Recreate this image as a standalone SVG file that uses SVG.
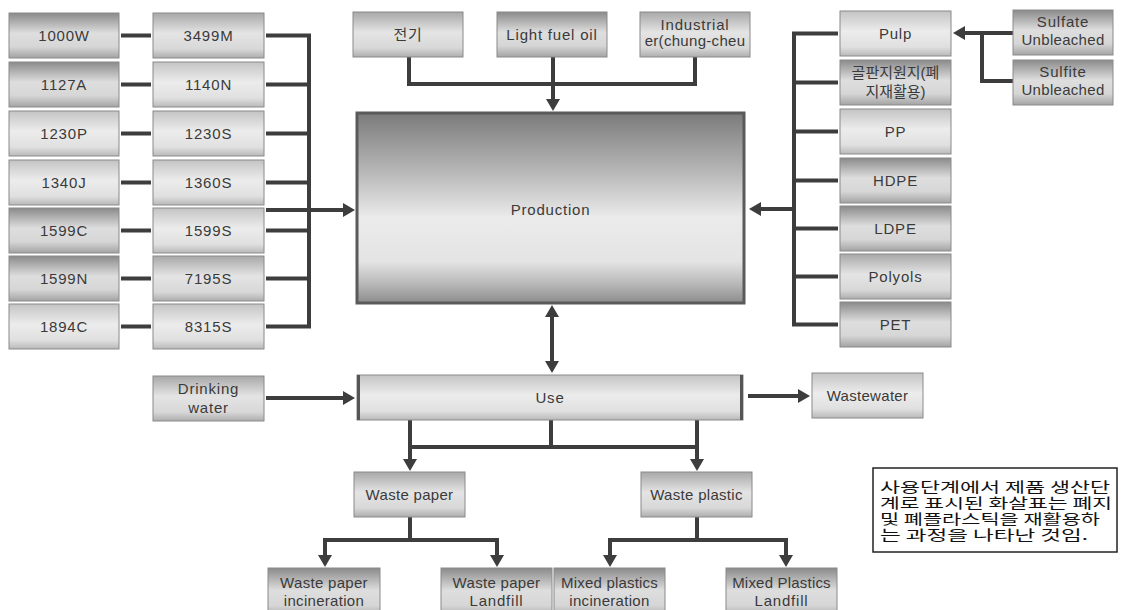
<svg xmlns="http://www.w3.org/2000/svg" width="1124" height="610" viewBox="0 0 1124 610">
<defs>
<linearGradient id="gD" x1="0" y1="0" x2="0" y2="1">
<stop offset="0" stop-color="#8a8a8a"/><stop offset="0.45" stop-color="#dedede"/><stop offset="0.75" stop-color="#d6d6d6"/><stop offset="1" stop-color="#a3a3a3"/>
</linearGradient>
<linearGradient id="gM" x1="0" y1="0" x2="0" y2="1">
<stop offset="0" stop-color="#a8a8a8"/><stop offset="0.45" stop-color="#e4e4e4"/><stop offset="0.8" stop-color="#d8d8d8"/><stop offset="1" stop-color="#adadad"/>
</linearGradient>
<linearGradient id="gL" x1="0" y1="0" x2="0" y2="1">
<stop offset="0" stop-color="#c4c4c4"/><stop offset="0.45" stop-color="#ececec"/><stop offset="0.8" stop-color="#e0e0e0"/><stop offset="1" stop-color="#b9b9b9"/>
</linearGradient>
<linearGradient id="gP" x1="0" y1="0" x2="0" y2="1">
<stop offset="0" stop-color="#7b7b7b"/><stop offset="0.3" stop-color="#b5b5b5"/><stop offset="0.55" stop-color="#ebebeb"/><stop offset="0.78" stop-color="#e4e4e4"/><stop offset="0.9" stop-color="#b8b8b8"/><stop offset="1" stop-color="#8c8c8c"/>
</linearGradient>
<marker id="arr" viewBox="0 0 12 14" refX="6" refY="7" markerWidth="12" markerHeight="14" orient="auto-start-reverse" markerUnits="userSpaceOnUse">
<path d="M0,0 L12,7 L0,14 z" fill="#3d3d3d"/>
</marker>
<style>
.b{stroke:#8a8a8a;stroke-width:1}
.d{fill:url(#gD)}
.m{fill:url(#gM)}
.l{fill:url(#gL)}
.t{font-family:"Liberation Sans",Arial,sans-serif;font-size:15px;fill:#3a3a3a;text-anchor:middle;letter-spacing:0.8px}
.k{font-family:"Liberation Sans","Noto Sans CJK KR",sans-serif}
.c{fill:none;stroke:#3d3d3d;stroke-width:4}
.a{fill:none;stroke:#3d3d3d;stroke-width:4;marker-end:url(#arr)}
.n{font-family:"Noto Sans CJK KR",sans-serif;font-size:14px;fill:#111}
</style>
</defs>

<g id="connectors">
<path class="c" d="M121,35.5H151M121,84.5H151M121,133.5H151M121,182.5H151M121,230.5H151M121,278.5H151M121,326.5H151"/>
<path class="c" d="M266,35.5H309V326.5H266M266,84.5H309M266,133.5H309M266,182.5H309M266,230.5H309M266,278.5H309"/>
<path class="a" d="M266,210H349"/>
<path class="c" d="M409,57V84H695V57"/>
<path class="a" d="M553,57V105"/>
<path class="c" d="M838,33.5H794V324.5H838M794,82.5H838M794,131.5H838M794,180.5H838M794,228.5H838M794,276.5H838"/>
<path class="a" d="M794,209H755"/>
<path class="c" d="M1013,81H982V33"/>
<path class="a" d="M1013,33H959"/>
<path class="a" d="M552,367V311" style="marker-start:url(#arr)"/>
<path class="a" d="M266,398H349"/>
<path class="a" d="M748,396H804"/>
<path class="c" d="M410,447H697M551,420V447"/>
<path class="a" d="M410,420V465"/>
<path class="a" d="M697,420V465"/>
<path class="c" d="M410,517V540M325,540H497"/>
<path class="a" d="M325,538V561"/>
<path class="a" d="M497,538V561"/>
<path class="c" d="M697,517V540M610,540H786"/>
<path class="a" d="M610,538V561"/>
<path class="a" d="M786,538V561"/>
</g>

<g id="n1000W"><rect class="b d" x="9" y="13" width="110" height="45"/><text class="t" x="64" y="41">1000W</text></g>
<g id="n1127A"><rect class="b d" x="9" y="62" width="110" height="45"/><text class="t" x="64" y="90">1127A</text></g>
<g id="n1230P"><rect class="b l" x="9" y="111" width="110" height="45"/><text class="t" x="64" y="139">1230P</text></g>
<g id="n1340J"><rect class="b l" x="9" y="160" width="110" height="45"/><text class="t" x="64" y="188">1340J</text></g>
<g id="n1599C"><rect class="b d" x="9" y="208" width="110" height="45"/><text class="t" x="64" y="236">1599C</text></g>
<g id="n1599N"><rect class="b d" x="9" y="256" width="110" height="45"/><text class="t" x="64" y="284">1599N</text></g>
<g id="n1894C"><rect class="b l" x="9" y="304" width="110" height="45"/><text class="t" x="64" y="332">1894C</text></g>

<g id="n3499M"><rect class="b m" x="153" y="13" width="111" height="45"/><text class="t" x="208.5" y="41">3499M</text></g>
<g id="n1140N"><rect class="b l" x="153" y="62" width="111" height="45"/><text class="t" x="208.5" y="90">1140N</text></g>
<g id="n1230S"><rect class="b l" x="153" y="111" width="111" height="45"/><text class="t" x="208.5" y="139">1230S</text></g>
<g id="n1360S"><rect class="b l" x="153" y="160" width="111" height="45"/><text class="t" x="208.5" y="188">1360S</text></g>
<g id="n1599S"><rect class="b l" x="153" y="208" width="111" height="45"/><text class="t" x="208.5" y="236">1599S</text></g>
<g id="n7195S"><rect class="b m" x="153" y="256" width="111" height="45"/><text class="t" x="208.5" y="284">7195S</text></g>
<g id="n8315S"><rect class="b l" x="153" y="304" width="111" height="45"/><text class="t" x="208.5" y="332">8315S</text></g>

<g id="nElec"><rect class="b m" x="353" y="12" width="110" height="45"/><text class="t k" x="408" y="40">전기</text></g>
<g id="nFuel"><rect class="b d" x="497" y="12" width="110" height="45"/><text class="t" x="552" y="40">Light fuel oil</text></g>
<g id="nIndustrial"><rect class="b m" x="640" y="12" width="110" height="45"/><text class="t" x="695" y="30">Industrial</text><text class="t" x="695" y="46" style="letter-spacing:0.3px">er(chung-cheu</text></g>

<g id="nProduction"><rect x="357" y="113" width="387" height="190" fill="url(#gP)" stroke="#5a5a5a" stroke-width="3"/><text class="t" x="550.5" y="215">Production</text></g>

<g id="nPulp"><rect class="b l" x="840" y="11" width="111" height="45"/><text class="t" x="895.5" y="39">Pulp</text></g>
<g id="nCorrugated"><rect class="b d" x="840" y="60" width="111" height="45"/><text class="t k" x="895.5" y="78" style="letter-spacing:0;font-size:15px">골판지원지(폐</text><text class="t k" x="895.5" y="97" style="letter-spacing:0;font-size:15px">지재활용)</text></g>
<g id="nPP"><rect class="b l" x="840" y="109" width="111" height="45"/><text class="t" x="895.5" y="137">PP</text></g>
<g id="nHDPE"><rect class="b d" x="840" y="158" width="111" height="45"/><text class="t" x="895.5" y="186">HDPE</text></g>
<g id="nLDPE"><rect class="b d" x="840" y="206" width="111" height="45"/><text class="t" x="895.5" y="234">LDPE</text></g>
<g id="nPolyols"><rect class="b m" x="840" y="254" width="111" height="45"/><text class="t" x="895.5" y="282">Polyols</text></g>
<g id="nPET"><rect class="b d" x="840" y="302" width="111" height="45"/><text class="t" x="895.5" y="330">PET</text></g>

<g id="nSulfate"><rect class="b d" x="1013" y="10" width="100" height="45"/><text class="t" x="1063" y="27">Sulfate</text><text class="t" x="1063" y="45" style="letter-spacing:0.3px">Unbleached</text></g>
<g id="nSulfite"><rect class="b d" x="1013" y="60" width="100" height="45"/><text class="t" x="1063" y="77">Sulfite</text><text class="t" x="1063" y="95" style="letter-spacing:0.3px">Unbleached</text></g>

<g id="nDrinking"><rect class="b m" x="153" y="376" width="111" height="45"/><text class="t" x="208.5" y="394">Drinking</text><text class="t" x="208.5" y="413">water</text></g>
<g id="nUse"><rect class="b l" x="357" y="375" width="386" height="45"/><path d="M358.5,375V420M741.5,375V420" stroke="#555" stroke-width="3"/><text class="t" x="550" y="403">Use</text></g>
<g id="nWastewater"><rect class="b l" x="812" y="373" width="111" height="45"/><text class="t" x="867.5" y="401" style="letter-spacing:0.3px">Wastewater</text></g>

<g id="nWastePaper"><rect class="b m" x="354" y="472" width="111" height="45"/><text class="t" x="409.5" y="500" style="letter-spacing:0.3px">Waste paper</text></g>
<g id="nWastePlastic"><rect class="b m" x="641" y="472" width="111" height="45"/><text class="t" x="696.5" y="500" style="letter-spacing:0.3px">Waste plastic</text></g>

<g id="nWPInc"><rect class="b d" x="268" y="568" width="112" height="50"/><text class="t" x="324" y="588" style="letter-spacing:0.3px">Waste paper</text><text class="t" x="324" y="606" style="letter-spacing:0.3px">incineration</text></g>
<g id="nWPLand"><rect class="b d" x="441" y="568" width="111" height="50"/><text class="t" x="496.5" y="588" style="letter-spacing:0.3px">Waste paper</text><text class="t" x="496.5" y="606">Landfill</text></g>
<g id="nMPInc"><rect class="b d" x="554" y="568" width="111" height="50"/><text class="t" x="609.5" y="588" style="letter-spacing:0.2px">Mixed plastics</text><text class="t" x="609.5" y="606" style="letter-spacing:0.3px">incineration</text></g>
<g id="nMPLand"><rect class="b d" x="726" y="568" width="111" height="50"/><text class="t" x="781.5" y="588" style="letter-spacing:0.2px">Mixed Plastics</text><text class="t" x="781.5" y="606">Landfill</text></g>

<g id="note">
<rect x="873" y="468" width="244" height="84" fill="#fff" stroke="#222" stroke-width="1.5"/>
<text class="n" x="880" y="492" textLength="230" lengthAdjust="spacingAndGlyphs">사용단계에서 제품 생산단</text>
<text class="n" x="880" y="508" textLength="232" lengthAdjust="spacingAndGlyphs">계로 표시된 화살표는 폐지</text>
<text class="n" x="880" y="524" textLength="220" lengthAdjust="spacingAndGlyphs">및 폐플라스틱을 재활용하</text>
<text class="n" x="880" y="540" textLength="208" lengthAdjust="spacingAndGlyphs">는 과정을 나타난 것임.</text>
</g>
</svg>
